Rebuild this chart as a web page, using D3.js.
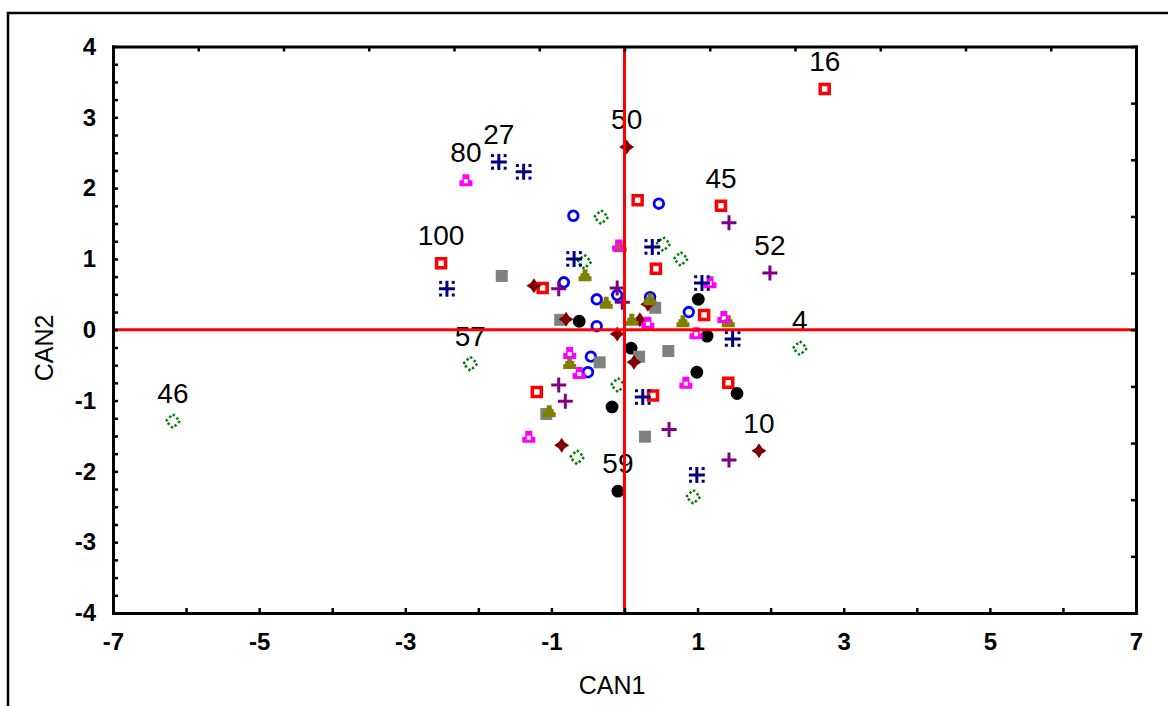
<!DOCTYPE html>
<html>
<head>
<meta charset="utf-8">
<script src="https://cdn.jsdelivr.net/npm/d3@7"></script>
<style>
body { margin: 0; background: #fff; }
svg { display: block; font-family: "Liberation Sans Narrow", "Liberation Sans", Arial, sans-serif; }
</style>
</head>
<body>
<svg id="chart" width="1168" height="706"></svg>
<script>
// axis ticks
const xTicks = d3.range(-7, 8);
const xLabels = [-7, -5, -3, -1, 1, 3, 5, 7];
const yTicks = d3.range(-4, 4.01, 0.25);
const yLabels = [-4, -3, -2, -1, 0, 1, 2, 3, 4];

// points: [CAN1, CAN2, label]
const redSquares = [[2.74, 3.40, '16'], [-2.51, 0.94, '100'], [0.18, 1.83], [1.32, 1.75, '45'], [0.43, 0.86],
  [-1.12, 0.59], [1.09, 0.21], [-1.20, -0.88], [1.42, -0.75], [0.39, -0.93]];
const blueCircles = [[-0.70, 1.61], [0.47, 1.78], [-0.83, 0.67], [-0.38, 0.43], [-0.38, 0.05],
  [-0.10, 0.49], [0.35, 0.46], [0.88, 0.25], [-0.46, -0.38], [-0.50, -0.60]];
const greenDiamonds = [[-6.18, -1.29, '46'], [-2.11, -0.48, '57'], [2.40, -0.26, '4'], [-0.32, 1.59], [0.53, 1.21],
  [0.77, 1.00], [-0.55, 0.96], [-0.09, -0.78], [-0.65, -1.80], [0.94, -2.36]];
const purplePlus = [[1.43, 1.51], [1.99, 0.80, '52'], [-0.90, 0.58], [-0.10, 0.59], [-0.03, 0.39],
  [-0.90, -0.78], [-0.81, -1.01], [0.61, -1.41], [1.43, -1.84]];
const blackDots = [[1.01, 0.43], [-0.62, 0.12], [0.09, -0.26], [1.13, -0.09], [0.99, -0.60],
  [1.54, -0.90], [-0.17, -1.09], [-0.09, -2.28, '59']];
const graySquares = [[-1.68, 0.76], [-0.88, 0.14], [0.42, 0.31], [0.20, -0.38], [0.60, -0.30],
  [-0.34, -0.46], [-1.07, -1.19], [0.28, -1.51]];
const maroonStars = [[0.03, 2.58, '50'], [1.84, -1.71, '10'], [-1.24, 0.62], [-0.80, 0.15], [-0.10, -0.06],
  [0.21, 0.14], [0.32, 0.36], [0.13, -0.46], [-0.86, -1.63]];
const oliveTriangles = [[-0.06, 1.18], [-0.54, 0.77], [-0.25, 0.38], [0.35, 0.43], [0.10, 0.14],
  [0.80, 0.12], [1.42, 0.12], [-0.75, -0.47], [-1.03, -1.15]];
const magentaTriangles = [[-2.17, 2.11, '80'], [-0.08, 1.19], [1.17, 0.67], [0.32, 0.10], [1.36, 0.18],
  [0.98, -0.05], [-0.75, -0.33], [-0.62, -0.61], [0.84, -0.75], [-1.31, -1.51]];
const navyAsterisks = [[-1.72, 2.37, '27'], [-1.38, 2.23], [-2.43, 0.58], [-0.69, 1.00], [0.38, 1.17],
  [1.06, 0.66], [1.48, -0.13], [0.25, -0.95], [0.99, -2.05]];

const svg = d3.select('#chart');
const x = d3.scaleLinear().domain([-7, 7]).range([113, 1136]);
const y = d3.scaleLinear().domain([-4, 4]).range([613, 46.5]);

// outer frame
svg.append('path')
  .attr('d', 'M8,706V13H1168')
  .attr('fill', 'none').attr('stroke', '#000').attr('stroke-width', 2.5);

// marker shapes
const shapes = {
  square: { d: 'M-4.5,-4.5H4.5V4.5H-4.5Z', fill: 'none', sw: 3.5 },
  circle: { d: d3.symbol(d3.symbolCircle, Math.PI * 4.8 * 4.8)(), fill: 'none', sw: 2.8 },
  diamond: { d: 'M0,-7L7,0L0,7L-7,0Z', fill: 'none', sw: 2.6, dash: '2.4,2.55' },
  plus: { d: 'M-7.5,0H7.5M0,-7.5V7.5', fill: 'none', sw: 3 },
  dot: { d: d3.symbol(d3.symbolCircle, Math.PI * 6.4 * 6.4)(), fill: 'c', sw: 0 },
  block: { d: 'M-6,-6H6V6H-6Z', fill: 'c', sw: 0 },
  star: { d: 'M0,-7.5L3,-3L7.5,0L3,3L0,7.5L-3,3L-7.5,0L-3,-3Z', fill: 'c', sw: 0 },
  olive: { d: 'M-2.5,-6H2.5V-2H4.5V1H6.5V6H-6.5V1H-4.5V-2H-2.5Z', fill: 'c', sw: 0 },
  openTri: { d: 'M-3.5,-6H3.5V0H6.5V6H-6.5V0H-3.5ZM-2,-1H2V3H-2Z', fill: 'c', sw: 0, evenodd: true },
  asterisk: { d: 'M-8,0H8M0,-8V8', fill: 'none', sw: 3, dots: true }
};

const groups = [
  { data: redSquares, color: '#ff0000', shape: 'square' },
  { data: blueCircles, color: '#0000ff', shape: 'circle' },
  { data: greenDiamonds, color: '#008000', shape: 'diamond' },
  { data: purplePlus, color: '#800080', shape: 'plus' },
  { data: blackDots, color: '#000000', shape: 'dot' },
  { data: graySquares, color: '#808080', shape: 'block' },
  { data: maroonStars, color: '#800000', shape: 'star' },
  { data: oliveTriangles, color: '#808000', shape: 'olive' },
  { data: magentaTriangles, color: '#ff00ff', shape: 'openTri' },
  { data: navyAsterisks, color: '#000080', shape: 'asterisk' }
];

const plot = svg.append('g');
groups.forEach(grp => {
  const s = shapes[grp.shape];
  const g = plot.append('g').selectAll('g')
    .data(grp.data)
    .join('g')
    .attr('transform', d => `translate(${x(d[0])},${y(d[1])})`);
  g.append('path')
    .attr('d', s.d)
    .attr('fill', s.fill === 'c' ? grp.color : 'none')
    .attr('fill-rule', s.evenodd ? 'evenodd' : null)
    .attr('stroke', s.sw ? grp.color : 'none')
    .attr('stroke-width', s.sw)
    .attr('stroke-dasharray', s.dash || null);
  if (s.dots) {
    [[-1, -1], [1, -1], [-1, 1], [1, 1]].forEach(([a, b]) => {
      g.append('rect')
        .attr('x', a * 6.3 - 1.5).attr('y', b * 6.3 - 1.5)
        .attr('width', 3).attr('height', 3)
        .attr('fill', grp.color);
    });
  }
});

// point labels
const labelled = groups.flatMap(grp => grp.data.filter(d => d[2]));
svg.append('g').selectAll('text')
  .data(labelled)
  .join('text')
  .attr('x', d => x(d[0]))
  .attr('y', d => y(d[1]) - 18)
  .attr('text-anchor', 'middle')
  .attr('font-size', 28)
  .attr('fill', '#000')
  .text(d => d[2]);

// zero lines
svg.append('line')
  .attr('x1', x(-7)).attr('x2', x(7)).attr('y1', y(0)).attr('y2', y(0))
  .attr('stroke', '#ff0000').attr('stroke-width', 3);
svg.append('line')
  .attr('x1', x(0)).attr('x2', x(0)).attr('y1', y(4)).attr('y2', y(-4))
  .attr('stroke', '#ff0000').attr('stroke-width', 3);

// axes (ticks point inward)
const fmtX = d => xLabels.includes(d) ? String(d) : '';
const fmtY = d => yLabels.includes(d) ? String(d) : '';

svg.append('g')
  .attr('transform', `translate(0,${y(-4)})`)
  .call(d3.axisBottom(x).tickValues(xTicks).tickFormat(fmtX).tickSizeInner(-5).tickSizeOuter(0).tickPadding(20));
svg.append('g')
  .attr('transform', `translate(${x(-7)},0)`)
  .call(d3.axisLeft(y).tickValues(yTicks).tickFormat(fmtY).tickSizeInner(-5).tickSizeOuter(0).tickPadding(17));
svg.append('g')
  .attr('transform', `translate(0,${y(4)})`)
  .call(d3.axisTop(x).tickValues(d3.range(13).map(i => -7 + 14 * i / 12)).tickFormat('').tickSizeInner(-5).tickSizeOuter(0));
svg.append('g')
  .attr('transform', `translate(${x(7)},0)`)
  .call(d3.axisRight(y).tickValues(d3.range(11).map(i => -4 + 8 * i / 10)).tickFormat('').tickSizeInner(-5).tickSizeOuter(0));

svg.selectAll('.domain').attr('stroke-width', 3).attr('stroke-linecap', 'square');
svg.selectAll('.tick line').attr('stroke-width', 2.5);
svg.selectAll('.tick text')
  .attr('font-family', '"Liberation Sans Narrow", "Liberation Sans", Arial, sans-serif')
  .attr('font-size', 24)
  .attr('font-weight', 'bold');

// axis titles
svg.append('text')
  .attr('x', 612).attr('y', 694)
  .attr('text-anchor', 'middle')
  .attr('font-size', 25)
  .text('CAN1');
svg.append('text')
  .attr('transform', 'translate(53,348) rotate(-90)')
  .attr('text-anchor', 'middle')
  .attr('font-size', 25)
  .text('CAN2');
</script>
</body>
</html>
